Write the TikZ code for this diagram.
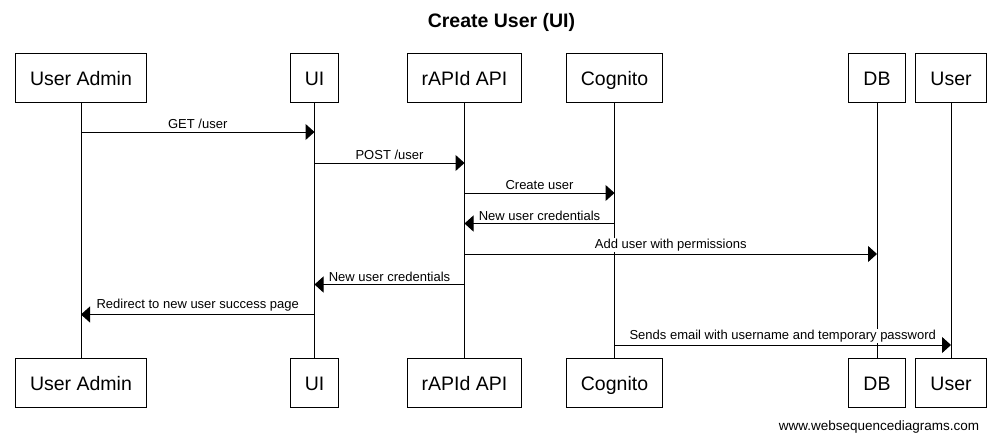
\documentclass[tikz,border=0pt]{standalone}
\usepackage{fontspec}
\setmainfont{Liberation Sans}
\usetikzlibrary{positioning}
\usetikzlibrary{arrows.meta}
\tikzset{SEQstyle/.style={
    x=1pt,% one unit per pixel
    y=-1pt,% rows counted downwards
    line width=1pt,
    every node/.style={font=\fontsize{13}{15}\selectfont},
    actor/.style={% head and foot boxes
      draw,
      fill=white,
      minimum height=49pt,
      inner xsep=14.5pt,
      text height=16pt,
      text depth=0pt,
      font=\fontsize{19.5}{23}\selectfont
    },
    msg/.style={-{Triangle[length=9pt,width=16pt]}},
    lbl/.style={% message text, white behind it
      fill=white,
      anchor=south,
      yshift=1.5pt,
      inner xsep=1pt,
      inner ysep=1pt
    }
  }
}
\begin{document}
\begin{tikzpicture}[SEQstyle]
  \useasboundingbox (0,0) rectangle (1001,442);
  \node[font=\bfseries\fontsize{19.5}{23}\selectfont] (title) at (501.5,22) {Create User (UI)};
  % heads
  \node[actor] (ua)  at (81,77.5)    {User Admin};
  \node[actor] (ui)  at (314.5,77.5) {UI};
  \node[actor] (api) at (464.5,77.5) {rAPId API};
  \node[actor] (cog) at (614.5,77.5) {Cognito};
  \node[actor] (db)  at (877,77.5)   {DB};
  \node[actor] (usr) at (951,77.5)   {User};
  % feet
  \node[actor] (ua2)  at (81,382.5)    {User Admin};
  \node[actor] (ui2)  at (314.5,382.5) {UI};
  \node[actor] (api2) at (464.5,382.5) {rAPId API};
  \node[actor] (cog2) at (614.5,382.5) {Cognito};
  \node[actor] (db2)  at (877,382.5)   {DB};
  \node[actor] (usr2) at (951,382.5)   {User};
  % lifelines
  \foreach \a in {ua,ui,api,cog,db,usr}
    \draw (\a.south) -- (\a2.north);
  % message rows
  \coordinate (r1) at (0,132);
  \coordinate (r2) at (0,163);
  \coordinate (r3) at (0,193);
  \coordinate (r4) at (0,223.5);
  \coordinate (r5) at (0,254);
  \coordinate (r6) at (0,284.5);
  \coordinate (r7) at (0,314.5);
  \coordinate (r8) at (0,345);
  \draw[msg] (ua |- r1)  -- node[lbl]{GET /user} (ui |- r1);
  \draw[msg] (ui |- r2)  -- node[lbl]{POST /user} (api |- r2);
  \draw[msg] (api |- r3) -- node[lbl]{Create user} (cog |- r3);
  \draw[msg] (cog |- r4) -- node[lbl]{New user credentials} (api |- r4);
  \draw[msg] (api |- r5) -- node[lbl]{Add user with permissions} (db |- r5);
  \draw[msg] (api |- r6) -- node[lbl]{New user credentials} (ui |- r6);
  \draw[msg] (ui |- r7)  -- node[lbl]{Redirect to new user success page} (ua |- r7);
  \draw[msg] (cog |- r8) -- node[lbl]{Sends email with username and temporary password} (usr |- r8);
  \node[anchor=east, font=\fontsize{13.5}{16}\selectfont] (site) at (983,427) {www.websequencediagrams.com};
\end{tikzpicture}
\end{document}
